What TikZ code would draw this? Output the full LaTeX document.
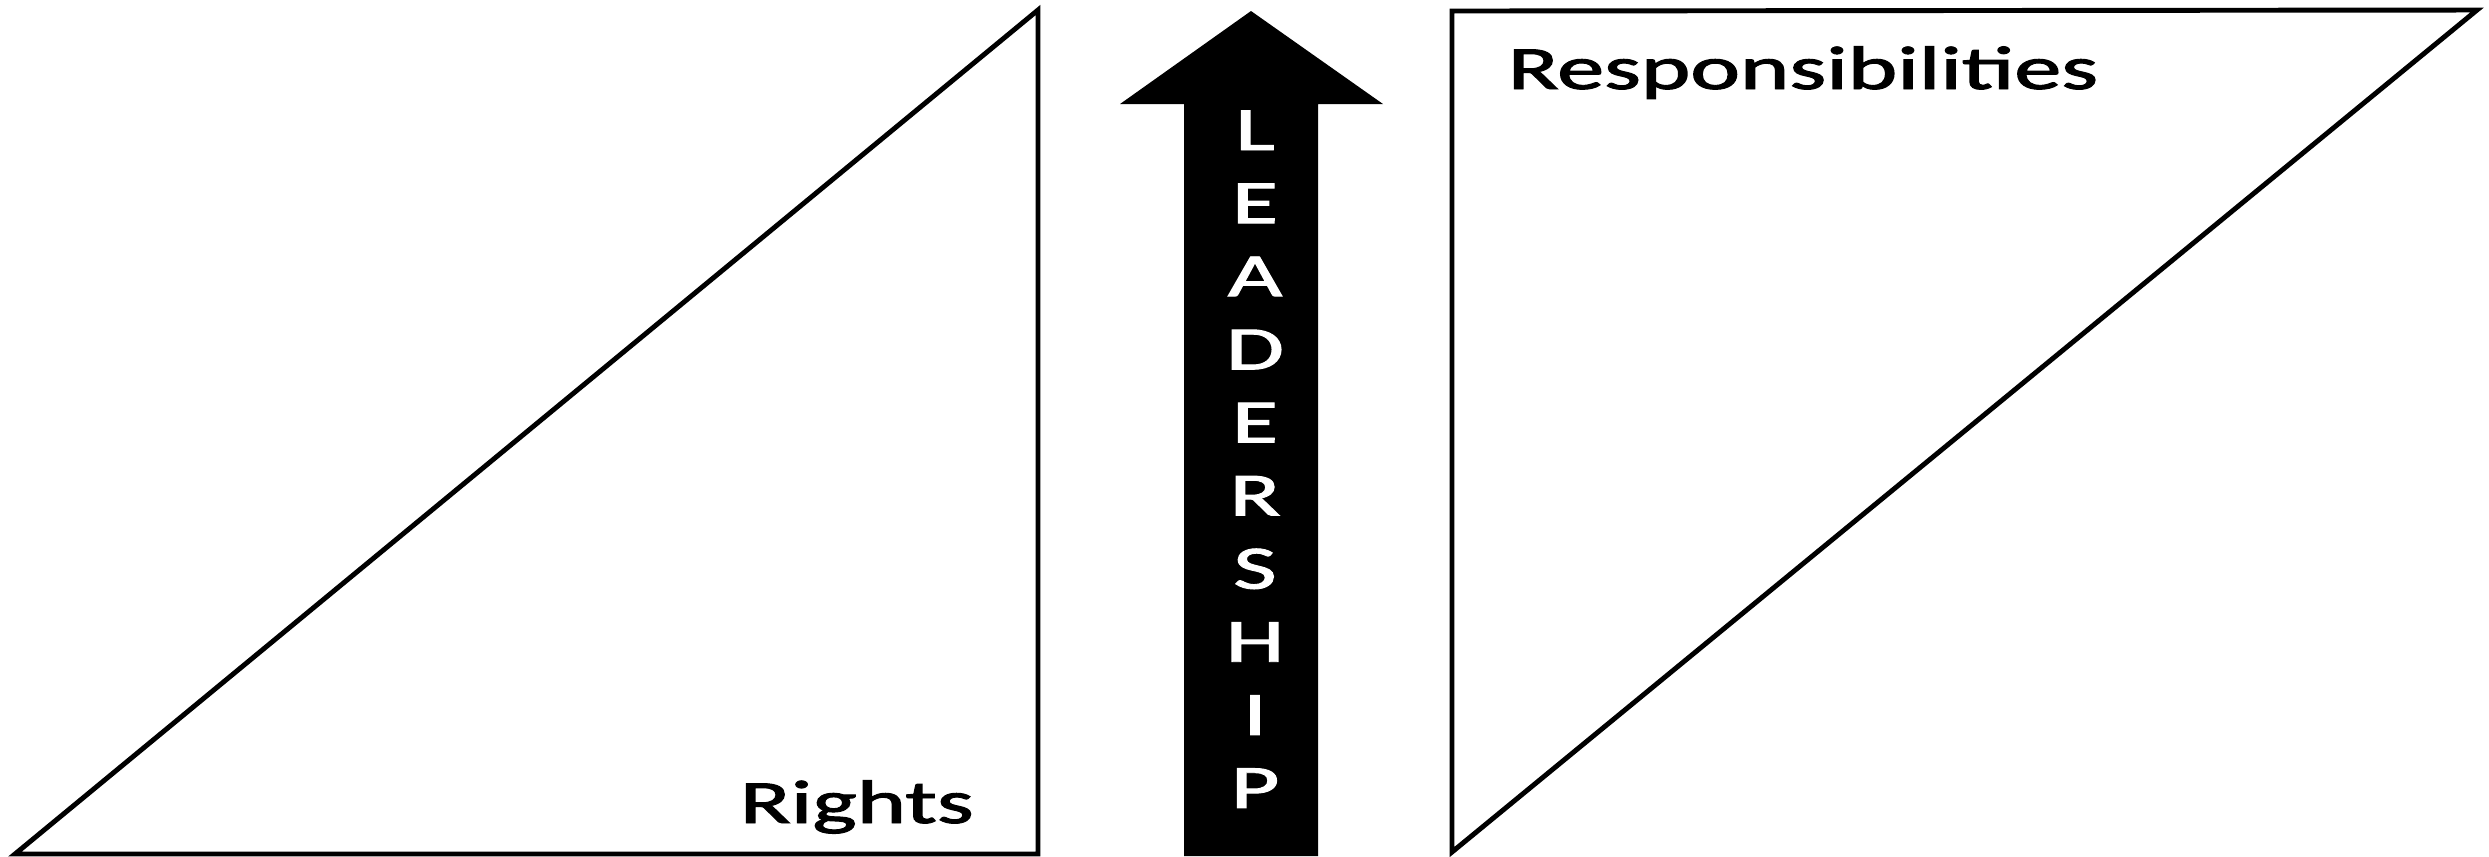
\documentclass[tikz,border=0pt]{standalone}
\usepackage{fontspec}
\setmainfont{Carlito}
\newfontfamily\labelfont{Carlito}[FakeBold=1.5]
\usepackage{graphicx}
\usetikzlibrary{positioning}
\newcommand{\widetext}[1]{\scalebox{1.53}[1]{#1}}
\tikzset{
  wedge/.style={draw=black,line width=1.4pt,line join=miter,fill=white},
  sidelabel/.style={font=\fontsize{17.5}{20}\selectfont\labelfont,
                    inner sep=0pt,anchor=base west},
  spine/.style={fill=black},
  spineletter/.style={font=\fontsize{17.5}{20}\selectfont\labelfont,
                      text=white,inner sep=0pt,anchor=base},
}
\begin{document}
\begin{tikzpicture}[x=0.01cm,y=-0.01cm]
  \useasboundingbox (0,0) rectangle (2489,856);
  % left wedge
  \draw[wedge](15,854)coordinate(l1)--(1038,10)coordinate(l2)
    --(1038,854)coordinate(l3)--cycle;
  \node[sidelabel](rights)at(739,823){\widetext{Rights}};
  % right wedge
  \draw[wedge](1452,11)coordinate(r1)--(2477,10)coordinate(r2)
    --(1452,852)coordinate(r3)--cycle;
  \node[sidelabel](resp)at(1507,89){\widetext{Responsibilities}};
  % arrow
  \fill[spine](1251,11)coordinate(tip)--(1383,104)--(1318,104)
    --(1318,856)--(1184,856)--(1184,104)--(1120,104)--cycle;
  \foreach \i/\c in {0/L,1/E,2/A,3/D,4/E,5/R,6/S,7/H,8/I,9/P}{
    \node[spineletter](ch\i)at(1255,{150+\i*73.1}){\widetext{\c}};
  }
\end{tikzpicture}
\end{document}
